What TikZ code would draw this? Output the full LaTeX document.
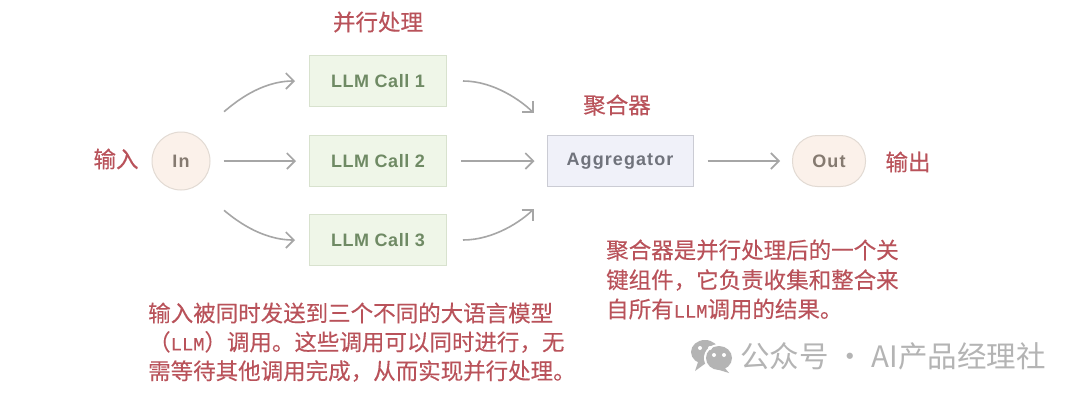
\documentclass[tikz,border=0pt]{standalone}
\usepackage{fontspec}
\setmainfont{Liberation Sans}
\newfontfamily\cjk{Noto Sans CJK SC}
\newfontfamily\cjknote[FakeBold=0.2]{Noto Sans CJK SC}
\newfontfamily\cjkheavy[FakeBold=0.4]{Noto Sans CJK SC}
\newfontfamily\llmfont[FakeBold=0.2]{Liberation Mono}
\newfontfamily\callfont[LetterSpace=3]{Liberation Sans}
\newfontfamily\aggfont[LetterSpace=6]{Liberation Sans}
\newcommand{\llmword}{{\fontsize{18.75}{26}\llmfont LLM}}
\definecolor{labelred}{HTML}{B9525A}
\definecolor{callfill}{HTML}{EFF6E8}
\definecolor{callline}{HTML}{D8E2CE}
\definecolor{calltext}{HTML}{6F8A64}
\definecolor{aggfill}{HTML}{F0F1F9}
\definecolor{aggline}{HTML}{CBCCD4}
\definecolor{aggtext}{HTML}{70737C}
\definecolor{endfill}{HTML}{FBF1EA}
\definecolor{endline}{HTML}{E2DAD3}
\definecolor{endtext}{HTML}{857A70}
\definecolor{arrowgray}{HTML}{A6A6A6}
\definecolor{markgray}{HTML}{B4B4B4}
\usetikzlibrary{arrows.meta}
\tikzset{
  call/.style={draw=callline,fill=callfill,line width=1pt,minimum width=137pt,minimum height=51pt,inner sep=0pt,
    text=calltext,font=\fontsize{18}{20}\callfont\bfseries},
  agg/.style={draw=aggline,fill=aggfill,line width=1pt,minimum width=146pt,minimum height=51pt,inner sep=0pt,
    text=aggtext,font=\fontsize{18}{20}\aggfont\bfseries},
  endcap/.style={draw=endline,fill=endfill,line width=1pt,inner sep=0pt,text=endtext,font=\fontsize{18}{20}\aggfont\bfseries},
  redlabel/.style={text=labelred,inner sep=0pt,font=\fontsize{22.5}{26}\cjkheavy},
  note/.style={text=labelred,inner sep=0pt,anchor=west,font=\fontsize{22.5}{26}\cjknote},
  link/.style={draw=arrowgray,line width=1.6pt,-{Straight Barb[length=8pt,width=16pt,line width=1.6pt]}},
}
\begin{document}
\begin{tikzpicture}[x=1pt,y=-1pt]
  \useasboundingbox (0,0) rectangle (1080,400);
  \fill[white] (0,0) rectangle (1080,400);
  % flow
  \node[endcap,circle,minimum size=58pt] (In) at (181,161) {In};
  \node[call] (call1) at (378,81) {LLM Call 1};
  \node[call] (call2) at (378,161) {LLM Call 2};
  \node[call] (call3) at (378,240) {LLM Call 3};
  \node[agg] (agg) at (620,161) {Aggregator};
  \node[endcap,rounded corners=25pt,minimum width=73pt,minimum height=51pt] (Out) at (829,161) {Out};
  \draw[link,shorten <=37pt,shorten >=14pt] (In.60) to[out=40,in=180] (call1.west);
  \draw[link,shorten <=13pt,shorten >=13pt] (In) -- (call2);
  \draw[link,shorten <=37pt,shorten >=14pt] (In.-60) to[out=-40,in=180] (call3.west);
  \draw[link,shorten <=16pt,shorten >=31pt] (call1.east) to[out=0,in=135] (agg.158);
  \draw[link,shorten <=14pt,shorten >=12pt] (call2) -- (agg);
  \draw[link,shorten <=16pt,shorten >=31pt] (call3.east) to[out=0,in=-135] (agg.-158);
  \draw[link,shorten <=14pt,shorten >=12pt] (agg) -- (Out);
  % labels
  \node[redlabel] (title) at (378,22) {并行处理};
  \node[redlabel] (inlabel) at (116,159) {输入};
  \node[redlabel] (agglabel) at (617,105) {聚合器};
  \node[redlabel] (outlabel) at (908,162) {输出};
  % notes
  \node[note] (left1) at (148,313) {输入被同时发送到三个不同的大语言模型};
  \node[note] (left2) at (148,342) {（\llmword）调用。这些调用可以同时进行，无};
  \node[note] (left3) at (148,371) {需等待其他调用完成，从而实现并行处理。};
  \node[note] (right1) at (606,250) {聚合器是并行处理后的一个关};
  \node[note] (right2) at (606,280) {键组件，它负责收集和整合来};
  \node[note] (right3) at (606,309) {自所有\llmword 调用的结果。};
  % watermark
  \fill[markgray] (705,352) ellipse [x radius=14pt,y radius=12pt];
  \fill[markgray] (698,362) -- (695,371) -- (706,363) -- cycle;
  \fill[white] (719,358) ellipse [x radius=15pt,y radius=14pt];
  \fill[markgray] (719,358) ellipse [x radius=13pt,y radius=12pt];
  \fill[markgray] (724,367) -- (729,373) -- (716,369) -- cycle;
  \fill[white] (700,348) circle [radius=2pt] (710,348) circle [radius=2pt]
    (714,355) circle [radius=2pt] (724,355) circle [radius=2pt];
  \node[text=markgray,inner sep=0pt,anchor=west,font=\fontsize{29.5}{34}\cjk] (mark) at (740,356) {公众号 · AI产品经理社};
\end{tikzpicture}
\end{document}
